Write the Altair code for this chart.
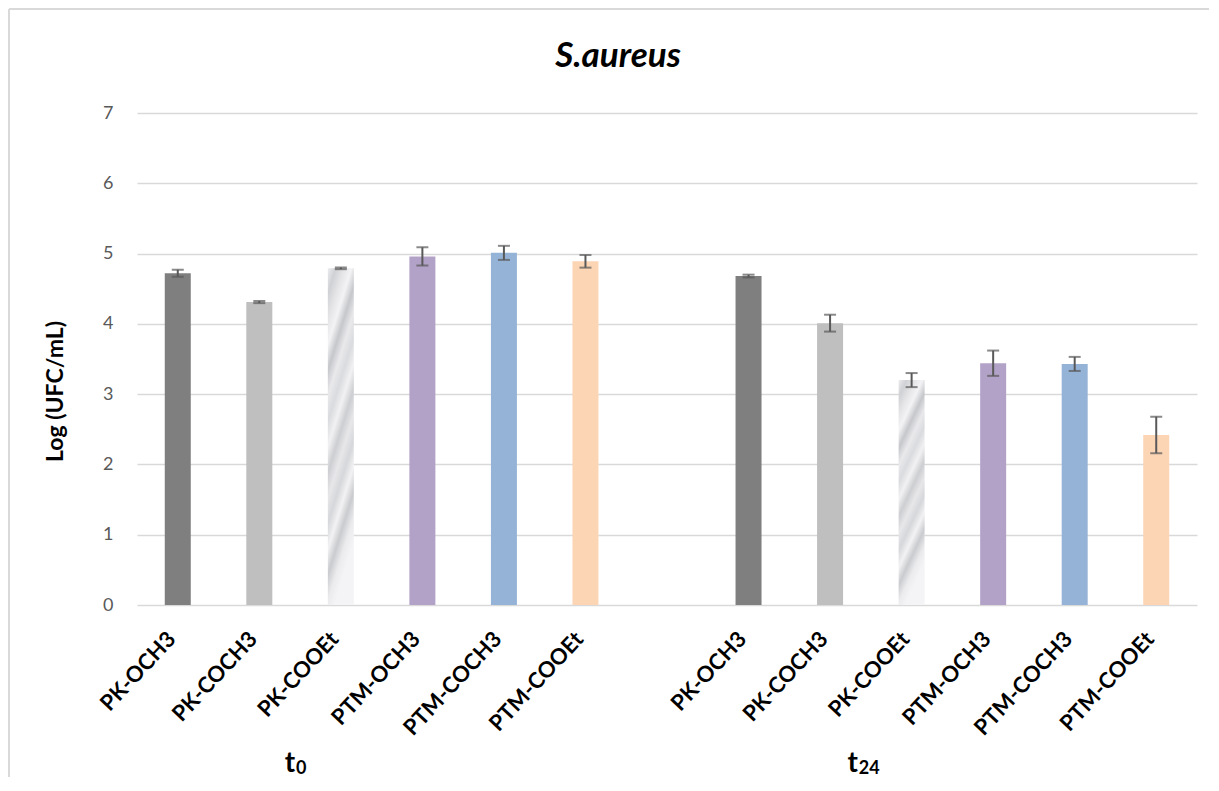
import altair as alt
import pandas as pd

# ---------------- data ----------------
compounds = ["PK-OCH3", "PK-COCH3", "PK-COOEt", "PTM-OCH3", "PTM-COCH3", "PTM-COOEt"]
times = ["t0", "t24"]
t0_values = [4.72, 4.31, 4.79, 4.96, 5.01, 4.89]
t0_errors = [0.05, 0.015, 0.012, 0.13, 0.10, 0.09]
t24_values = [4.68, 4.01, 3.20, 3.44, 3.43, 2.42]
t24_errors = [0.02, 0.12, 0.10, 0.18, 0.10, 0.26]
y_ticks = [0, 1, 2, 3, 4, 5, 6, 7]
solid_compounds = ["PK-OCH3", "PK-COCH3", "PTM-OCH3", "PTM-COCH3", "PTM-COOEt"]
solid_colors = ["#7f7f7f", "#bfbfbf", "#b3a2c7", "#95b3d7", "#fcd5b5"]
marble_stops = ["#ececef", "#d0d1d4", "#e4e4e7", "#f3f3f5", "#c6c7cb", "#e9e9ec",
                "#dadbde", "#f1f1f3", "#cdced1", "#e7e7ea", "#d6d7da", "#f2f2f4",
                "#cacbce", "#ebebee", "#f4f4f6"]

slots = [f"t0_{c}" for c in compounds] + ["gap"] + [f"t24_{c}" for c in compounds]

rows = []
for t, vals, errs in [("t0", t0_values, t0_errors), ("t24", t24_values, t24_errors)]:
    for c, v, e in zip(compounds, vals, errs):
        rows.append(dict(slot=f"{t}_{c}", time=t, compound=c, value=v, low=v - e, high=v + e))
df = pd.DataFrame(rows)

W, H = 1060, 492
FONT = "Lato"

x_enc = alt.X(
    "slot:N",
    scale=alt.Scale(domain=slots, paddingInner=0, paddingOuter=0),
    axis=alt.Axis(
        title=None,
        labelAngle=-47,
        labelExpr="indexof(datum.value, '_') >= 0 ? split(datum.value, '_')[1] : ''",
        labelFont=FONT, labelFontWeight="bold", labelFontSize=22, labelColor="black",
        labelAlign="right", labelBaseline="middle", labelPadding=30, labelOffset=-6,
        labelOverlap=False, labelLimit=300,
        ticks=False, domain=False, grid=False,
    ),
)
y_enc = alt.Y(
    "value:Q",
    scale=alt.Scale(domain=[0, 7], nice=False),
    axis=alt.Axis(
        values=y_ticks, format="d",
        title="Log (UFC/mL)",
        grid=True, gridColor="#d9d9d9", gridWidth=1.5,
        domain=False, ticks=False,
        labelFont=FONT, labelFontSize=18, labelColor="#595959", labelPadding=24,
        titleFont=FONT, titleFontSize=23, titleFontWeight="bold", titleColor="black",
        titleAngle=-90, titleX=-82, titleY=278, titleAlign="center", titleBaseline="middle",
    ),
)

base = alt.Chart(df)

solid_bars = base.transform_filter(
    alt.FieldOneOfPredicate(field="compound", oneOf=solid_compounds)
).mark_bar(width=26).encode(
    x=x_enc,
    y=y_enc,
    color=alt.Color("compound:N", scale=alt.Scale(domain=solid_compounds, range=solid_colors), legend=None),
)

marble = alt.LinearGradient(
    gradient="linear",
    stops=[alt.GradientStop(offset=i / (len(marble_stops) - 1), color=c) for i, c in enumerate(marble_stops)],
    x1=0, x2=0.25, y1=0, y2=1,
)
marble_bars = base.transform_filter(
    alt.datum.compound == "PK-COOEt"
).mark_bar(width=26, color=marble).encode(x="slot:N", y="value:Q")

err_rule = base.mark_rule(color="#595959", strokeWidth=2).encode(
    x="slot:N", y="low:Q", y2="high:Q"
)
err_low = base.mark_tick(color="#595959", size=12, thickness=2).encode(x="slot:N", y="low:Q")
err_high = base.mark_tick(color="#595959", size=12, thickness=2).encode(x="slot:N", y="high:Q")

# group labels (t0, t24) with subscript
grp = pd.DataFrame({"slot": ["t0_PK-COCH3", "t24_PK-COCH3"], "main": ["t", "t"], "sub": ["0", "24"]})
g0 = alt.Chart(grp.iloc[[0]])
g1 = alt.Chart(grp.iloc[[1]])
gx = alt.X("slot:N", bandPosition=1)
lab_t0 = g0.mark_text(font=FONT, fontWeight="bold", fontSize=28, align="right", baseline="alphabetic", dx=-5, color="black").encode(
    x=gx, y=alt.value(659), text="main:N")
lab_s0 = g0.mark_text(font=FONT, fontWeight="bold", fontSize=18, align="left", baseline="alphabetic", dx=-4, color="black").encode(
    x=gx, y=alt.value(661), text="sub:N")
lab_t1 = g1.mark_text(font=FONT, fontWeight="bold", fontSize=28, align="right", baseline="alphabetic", dx=-13, color="black").encode(
    x=gx, y=alt.value(659), text="main:N")
lab_s1 = g1.mark_text(font=FONT, fontWeight="bold", fontSize=18, align="left", baseline="alphabetic", dx=-12, color="black").encode(
    x=gx, y=alt.value(661), text="sub:N")

title_df = pd.DataFrame({"title": ["S.aureus"]})
title = alt.Chart(title_df).mark_text(
    font=FONT, fontWeight="bold", fontStyle="italic", fontSize=35, align="center", baseline="alphabetic", color="black"
).encode(x=alt.value(481), y=alt.value(-46), text="title:N")

# chart-area frame: only top and left edges are visible in the reference
frame_df = pd.DataFrame({"k": [0]})
frame_top = alt.Chart(frame_df).mark_rule(color="#d9d9d9", strokeWidth=2).encode(
    x=alt.value(-128), x2=alt.value(1072), y=alt.value(-104))
frame_left = alt.Chart(frame_df).mark_rule(color="#d9d9d9", strokeWidth=2).encode(
    x=alt.value(-128), y=alt.value(-104), y2=alt.value(672))

chart = alt.layer(
    frame_top, frame_left, solid_bars, marble_bars, err_rule, err_low, err_high,
    lab_t0, lab_s0, lab_t1, lab_s1, title,
).properties(
    width=W, height=H,
    autosize=alt.AutoSizeParams(type="none"),
    padding={"left": 129, "top": 105, "right": 12, "bottom": 172},
).configure_view(stroke=None)

chart.save("out.html", embed_options={"renderer": "svg", "actions": False})
